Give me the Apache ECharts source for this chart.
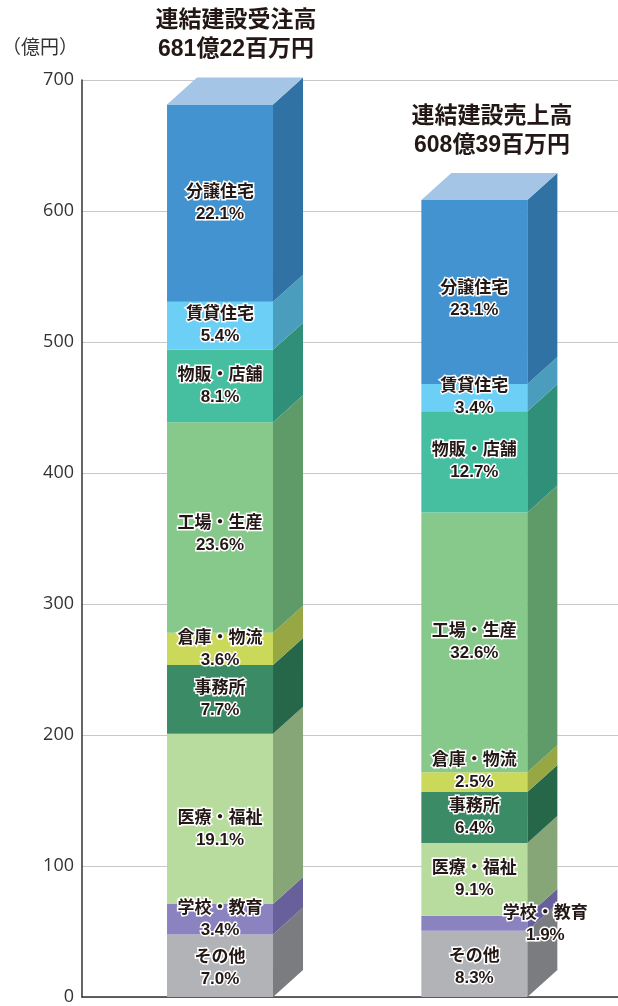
<!DOCTYPE html>
<html>
<head>
<meta charset="utf-8">
<script src="https://cdn.jsdelivr.net/npm/echarts@6/dist/echarts.min.js"></script>
<style>
  html, body { margin: 0; padding: 0; background: #fff; }
  #main { width: 618px; height: 1006px; }
</style>
</head>
<body>
<div id="main"></div>
<script>
// segments, bottom to top
var categories = ['その他', '学校・教育', '医療・福祉', '事務所', '倉庫・物流', '工場・生産', '物販・店舗', '賃貸住宅', '分譲住宅'];

// 連結建設受注高 (億円)
var orderValues = [47.7, 23.2, 130.1, 52.5, 24.5, 160.8, 55.2, 36.8, 150.5];
var orderPct = ['7.0%', '3.4%', '19.1%', '7.7%', '3.6%', '23.6%', '8.1%', '5.4%', '22.1%'];

// 連結建設売上高 (億円)
var salesValues = [50.5, 11.6, 55.4, 38.9, 15.2, 198.3, 77.3, 20.7, 140.5];
var salesPct = ['8.3%', '1.9%', '9.1%', '6.4%', '2.5%', '32.6%', '12.7%', '3.4%', '23.1%'];

var yTicks = [0, 100, 200, 300, 400, 500, 600, 700];

// styling / layout
var frontColors = ['#b2b3b6', '#8b83c0', '#b8dc9e', '#3a8b66', '#cad95a', '#86c98b', '#45bf9f', '#6ccff6', '#4393d0'];
var sideColors  = ['#7b7c80', '#68609a', '#87a677', '#266749', '#97a744', '#5f9a69', '#2f8f79', '#4b9dbd', '#2f72a3'];
var topColor = '#a5c5e7';
var barX = [0.2575, 0.732];   // bar centres on the hidden x axis
var BAR_W = 106, DX = 30, DY = 27;
// label nudges [dx, dy] keyed by "bar-segment"
var labelNudge = {
  '0-5': [0, 7], '0-2': [0, 10], '0-0': [0, 3],
  '1-8': [0, 7], '1-4': [0, -11], '1-1': [71, 1], '1-0': [0, 3]
};

var txtFont = '"Liberation Sans", "Noto Sans CJK JP", sans-serif';

function buildData(values, pct, barIdx) {
  var out = [];
  var acc = 0;
  for (var i = 0; i < values.length; i++) {
    out.push({ value: [barIdx, acc, acc + values[i], i], label: categories[i] + '\n' + pct[i] });
    acc += values[i];
  }
  return out;
}
var segData = buildData(orderValues, orderPct, 0).concat(buildData(salesValues, salesPct, 1));

function renderItem(params, api) {
  var bar = api.value(0);
  var seg = api.value(3);
  var cx = api.coord([barX[bar], 0])[0];
  var y0 = api.coord([barX[bar], api.value(1)])[1];
  var y1 = api.coord([barX[bar], api.value(2)])[1];
  var xl = cx - BAR_W / 2, xr = cx + BAR_W / 2;
  var children = [
    { type: 'rect', shape: { x: xl, y: y1, width: BAR_W, height: y0 - y1 },
      style: { fill: frontColors[seg] } },
    { type: 'polygon', shape: { points: [[xr, y1], [xr + DX, y1 - DY], [xr + DX, y0 - DY], [xr, y0]] },
      style: { fill: sideColors[seg] } }
  ];
  if (seg === categories.length - 1) {
    children.push({ type: 'polygon',
      shape: { points: [[xl, y1], [xl + DX, y1 - DY], [xr + DX, y1 - DY], [xr, y1]] },
      style: { fill: topColor } });
  }
  var nudge = labelNudge[bar + '-' + seg] || [0, 0];
  children.push({
    type: 'text', z2: 10,
    style: {
      x: cx + nudge[0], y: (y0 + y1) / 2 + nudge[1],
      text: segData[params.dataIndex].label,
      textAlign: 'center', textVerticalAlign: 'middle',
      font: 'bold 17px ' + txtFont, lineHeight: 22,
      fill: '#231815', stroke: '#fff', lineWidth: 3
    }
  });
  return { type: 'group', children: children };
}

var chart = echarts.init(document.getElementById('main'));

var option = {
  animation: false,
  backgroundColor: '#fff',
  grid: { left: 82, right: 0, top: 80, bottom: 8 },
  xAxis: {
    type: 'value', min: 0, max: 1,
    axisLine: { show: true, onZero: false, lineStyle: { color: '#333', width: 1.5 } },
    axisTick: { show: false }, axisLabel: { show: false }, splitLine: { show: false }
  },
  yAxis: {
    type: 'value', min: yTicks[0], max: yTicks[yTicks.length - 1], interval: 100,
    axisLine: { show: true, lineStyle: { color: '#333', width: 1.5 } },
    axisTick: { show: false },
    axisLabel: { color: '#333', fontSize: 18, fontFamily: '"Open Sans", sans-serif', margin: 8 },
    splitLine: { lineStyle: { color: '#c8c8c8', width: 1 } }
  },
  graphic: [
    { type: 'text', x: 40, y: 47,
      style: { text: '（億円）', textAlign: 'center', textVerticalAlign: 'middle',
               font: '19px "Noto Sans CJK JP", sans-serif', fill: '#333' } },
    { type: 'text', x: 236, y: 35,
      style: { text: '連結建設受注高\n681億22百万円', textAlign: 'center', textVerticalAlign: 'middle',
               font: 'bold 23px ' + txtFont, lineHeight: 29, fill: '#231815' } },
    { type: 'text', x: 492, y: 131,
      style: { text: '連結建設売上高\n608億39百万円', textAlign: 'center', textVerticalAlign: 'middle',
               font: 'bold 23px ' + txtFont, lineHeight: 29, fill: '#231815' } }
  ],
  series: [{
    type: 'custom',
    renderItem: renderItem,
    encode: { x: -1, y: [1, 2] },
    clip: false,
    data: segData
  }]
};
chart.setOption(option);
</script>
</body>
</html>
